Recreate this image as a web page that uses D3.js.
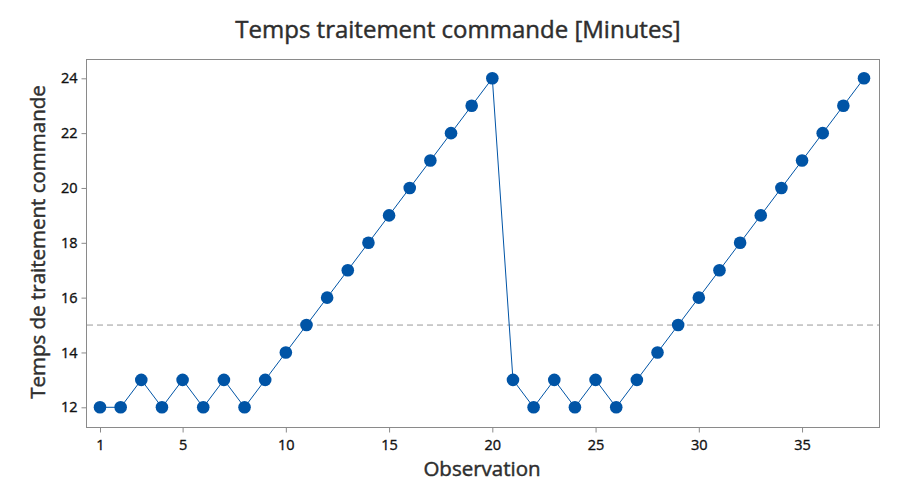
<!DOCTYPE html>
<html><head><meta charset="utf-8">
<script src="https://cdn.jsdelivr.net/npm/d3@7"></script>
<style>body{margin:0;background:#fff}svg{display:block}text{font-family:"Open Sans",sans-serif}</style>
</head><body>
<svg id="c" width="919" height="484"></svg>
<script>
const observations = d3.range(1, 39);
const values = [12,12,13,12,13,12,13,12,13,14,15,16,17,18,19,20,21,22,23,24,
                13,12,13,12,13,12,13,14,15,16,17,18,19,20,21,22,23,24];
const meanValue = 15;
const xTicks = [1,5,10,15,20,25,30,35];
const yTicks = [12,14,16,18,20,22,24];
const title = "Temps traitement commande [Minutes]";
const xLabel = "Observation";
const yLabel = "Temps de traitement commande";

const svg = d3.select("#c");
const L = 86, R = 879, T = 59, B = 427;
const x = d3.scaleLinear().domain([1, 38]).range([100, 864]);
const y = d3.scaleLinear().domain([12, 24]).range([407.3, 78.3]);

svg.append("rect").attr("x", L + 0.5).attr("y", T + 0.5).attr("width", R - L).attr("height", B - T)
  .attr("fill", "none").attr("stroke", "#8a8a8a").attr("stroke-width", 1);

const xa = svg.append("g").attr("transform", `translate(0,${B + 0.5})`)
  .call(d3.axisBottom(x).tickValues(xTicks).tickSize(5).tickFormat(d3.format("d")));
const ya = svg.append("g").attr("transform", `translate(${L + 0.5},0)`)
  .call(d3.axisLeft(y).tickValues(yTicks).tickSize(5).tickFormat(d3.format("d")));
[xa, ya].forEach(a => {
  a.select(".domain").remove();
  a.selectAll(".tick line").attr("stroke", "#8a8a8a");
  a.selectAll(".tick text").attr("fill", "#111").attr("stroke", "#111").attr("stroke-width", 0.35)
    .style("font-size", "14.5px").style("font-family", '"Open Sans",sans-serif');
});
xa.selectAll(".tick text").attr("dy", "1.0em");
ya.selectAll(".tick text").attr("dx", "-1px");

svg.append("line").attr("x1", L + 1).attr("x2", R).attr("y1", y(meanValue)).attr("y2", y(meanValue))
  .attr("stroke", "#999").attr("stroke-width", 1).attr("stroke-dasharray", "6,4");

const pts = observations.map((o, i) => [o, values[i]]);
svg.append("path").datum(pts)
  .attr("d", d3.line().x(d => x(d[0])).y(d => y(d[1])))
  .attr("fill", "none").attr("stroke", "#0054a6").attr("stroke-width", 1);
svg.selectAll("circle.pt").data(pts).join("circle").attr("class", "pt")
  .attr("cx", d => x(d[0])).attr("cy", d => y(d[1])).attr("r", 6.3).attr("fill", "#0054a6");

const lab = sel => sel.attr("fill", "#2e2e2e").attr("stroke", "#2e2e2e").attr("stroke-width", 0.45);
svg.append("text").attr("x", 458).attr("y", 38).attr("text-anchor", "middle")
  .call(lab).style("font-size", "24px").text(title);
svg.append("text").attr("x", 482).attr("y", 476).attr("text-anchor", "middle")
  .call(lab).style("font-size", "20.5px").text(xLabel);
svg.append("text").attr("transform", "translate(45,242) rotate(-90)").attr("text-anchor", "middle")
  .call(lab).style("font-size", "20.5px").text(yLabel);
</script>
</body></html>
